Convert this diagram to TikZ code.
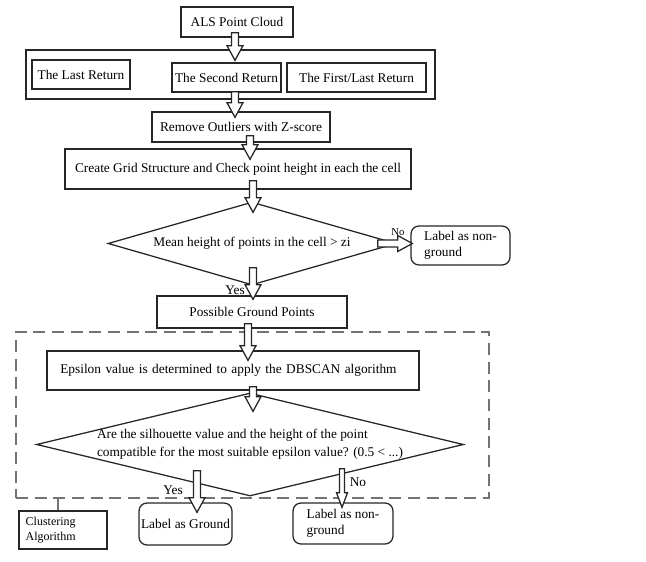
\documentclass[tikz,border=0pt]{standalone}
\usepackage{fontspec}
\setmainfont{Liberation Serif}
\usetikzlibrary{shapes.geometric,calc}

% hollow block arrow from #2 to #3, #1 = half width of the shaft
\newcommand{\flowarrow}[3][2.6pt]{%
  \coordinate (fa-s) at #2;
  \coordinate (fa-t) at #3;
  \coordinate (fa-h) at ($(fa-t)!11pt!(fa-s)$);
  \draw[hollow] ($(fa-s)!#1!90:(fa-t)$) -- ($(fa-h)!#1!90:(fa-t)$)
    -- ($(fa-h)!2.3*#1!90:(fa-t)$) -- (fa-t)
    -- ($(fa-h)!2.3*#1!-90:(fa-t)$) -- ($(fa-h)!#1!-90:(fa-t)$)
    -- ($(fa-s)!#1!-90:(fa-t)$) -- cycle;
}

\begin{document}
\begin{tikzpicture}[x=0.75pt, y=-0.75pt,
    box/.style={rectangle, draw=black!85, line width=0.95pt, fill=white, align=center, inner sep=2pt},
    decision/.style={diamond, draw=black!85, line width=0.95pt, fill=white, inner sep=0pt},
    terminal/.style={rectangle, rounded corners=6pt, draw=black!85, line width=0.95pt, fill=white, align=left, inner sep=1.5pt},
    hollow/.style={draw=black!85, line width=0.95pt, fill=white, line join=miter},
    tag/.style={inner sep=1pt},
]
\useasboundingbox (0,0) rectangle (646,561);

% Clustering part, behind everything
\node[draw=black!55, dash pattern=on 9pt off 5pt, line width=0.95pt, minimum width=354.75pt, minimum height=124.5pt] (cluster) at (252.5,415) {};

% Input and returns
\node[box, minimum width=84pt, minimum height=22.5pt] (als) at (237,22) {ALS Point Cloud};
\node[box, minimum width=306.75pt, minimum height=36.75pt] (returns) at (230.5,74.5) {};
\node[box, minimum width=73.5pt, minimum height=21.75pt] (last) at (81,74.5) {The Last Return};
\node[box, minimum width=81.75pt, minimum height=21.75pt] (second) at (226.5,77.5) {The Second Return};
\node[box, minimum width=104.25pt, minimum height=21.75pt] (firstlast) at (356.5,77.5) {The First/Last Return};

% Filtering steps
\node[box, minimum width=133.5pt, minimum height=22.5pt] (outliers) at (241,127) {Remove Outliers with Z-score};
\node[box, minimum width=259.5pt, minimum height=30pt] (grid) at (238,169) {Create Grid Structure and Check point height in each the cell};
\node[decision, aspect=3.47, minimum width=216pt, minimum height=62.25pt] (mean) at (252,243.5) {Mean height of points in the cell > zi};
\node[terminal, minimum width=74.25pt, minimum height=29.25pt] (nonground) at (460.5,245.5) {Label as non-\\ground};
\node[box, minimum width=142.5pt, minimum height=24pt] (possible) at (252,312) {Possible Ground Points};

% DBSCAN steps
\node[box, text width=259pt, inner xsep=10pt, minimum height=29.25pt, align=left] (epsilon) at (233,370.5) {Epsilon value is determined to apply the DBSCAN algorithm};
\node[decision, aspect=4.146, minimum width=320.25pt, minimum height=77.25pt, align=left, inner sep=-2pt, font=\fontsize{10pt}{13.5pt}\selectfont] (silhouette) at (250,444.5) {Are the silhouette value and the height of the point\\compatible for the most suitable epsilon value? (0.5 < ...)};
\node[terminal, minimum width=69.75pt, minimum height=31.5pt] (ground) at (185.5,524) {Label as Ground};
\node[terminal, minimum width=75pt, minimum height=30.75pt] (nonground2) at (343,523.5) {Label as non-\\ground};
\node[box, text width=56pt, inner xsep=5pt, minimum height=28.5pt, align=left, font=\small] (clustlabel) at (63,530) {Clustering\\Algorithm};
\draw[black!55, line width=0.95pt] ($(clustlabel.north)+(-5,0)$) -- ($(clustlabel.north |- cluster.south)+(-5,0)$);

% Block arrows
\flowarrow{($(als.south)+(-2,-5)$)}{($(second.north)+(8.5,-2)$)}
\flowarrow{($(second.south)+(8.5,-1)$)}{($(outliers.north)+(-6,6)$)}
\flowarrow{($(outliers.south)+(9,-7)$)}{($(grid.north)+(12,11)$)}
\flowarrow{($(grid.south)+(15,-9)$)}{($(mean.north)+(1,11)$)}
\flowarrow{($(mean.east)+(-19,0)$)}{($(nonground.west)+(2,-2)$)}
\flowarrow{($(mean.south)+(1,-18)$)}{($(possible.north)+(1,4)$)}
\flowarrow{($(possible.south)+(-4,-5)$)}{($(epsilon.north)+(15,10)$)}
\flowarrow{($(epsilon.south)+(20,-4)$)}{($(silhouette.north)+(3,19)$)}
\flowarrow{($(silhouette.south)+(-53,-26)$)}{($(ground.north)+(11.5,10)$)}
\flowarrow[1.8pt]{($(silhouette.south)+(92,-28)$)}{($(nonground2.north)+(-1,5)$)}

% Branch labels
\node[tag, font=\footnotesize] (no1) at (398,232) {No};
\node[tag] (yes1) at (235,290) {Yes};
\node[tag] (yes2) at (173,490) {Yes};
\node[tag] (no2) at (358,482) {No};
\end{tikzpicture}
\end{document}
